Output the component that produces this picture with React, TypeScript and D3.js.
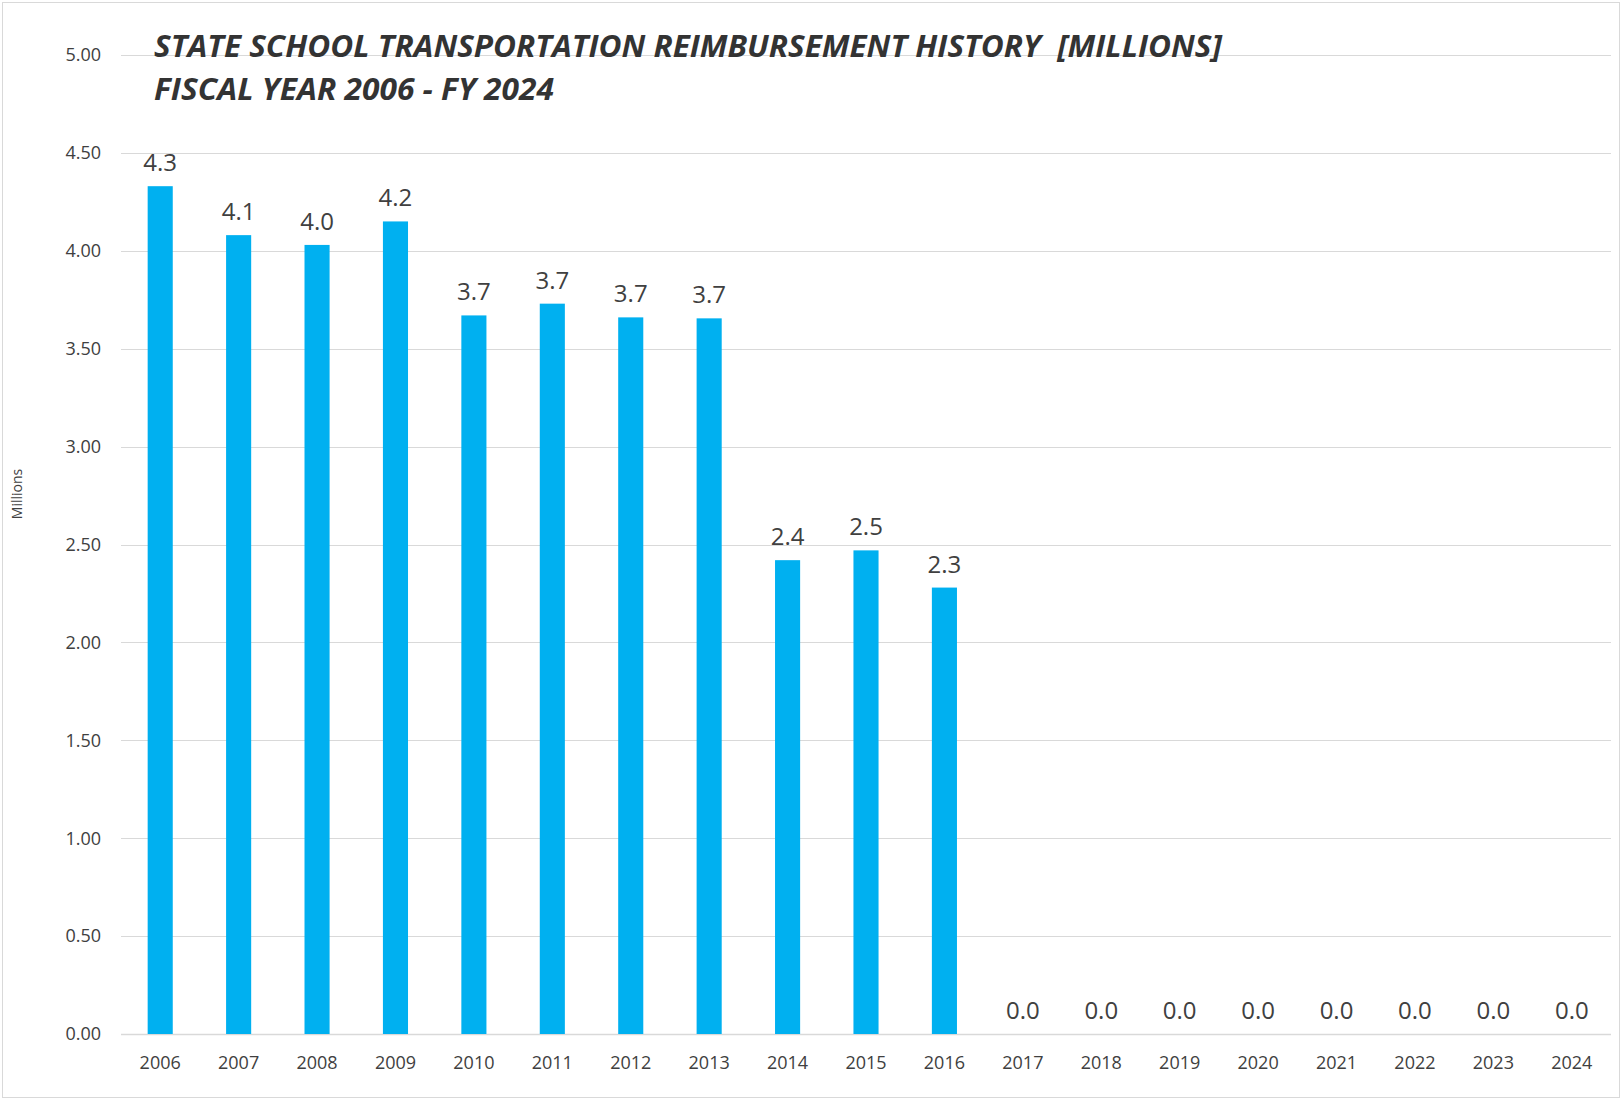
import { useMemo } from "react";
import * as d3 from "d3";

const years = [
  "2006", "2007", "2008", "2009", "2010", "2011", "2012", "2013", "2014", "2015",
  "2016", "2017", "2018", "2019", "2020", "2021", "2022", "2023", "2024",
];

const reimbursement = [
  4.33, 4.08, 4.03, 4.15, 3.67, 3.73, 3.66, 3.655, 2.42, 2.47,
  2.28, 0, 0, 0, 0, 0, 0, 0, 0,
];

const yTicks = [0, 0.5, 1, 1.5, 2, 2.5, 3, 3.5, 4, 4.5, 5];

const titleLines = [
  "STATE SCHOOL TRANSPORTATION REIMBURSEMENT HISTORY  [MILLIONS]",
  "FISCAL YEAR 2006 - FY 2024",
];

const width = 1622;
const height = 1100;
const margin = { top: 55, right: 11, bottom: 66, left: 121 };
const barColor = "#00b0f0";
const textColor = "#404040";
const font = "'Open Sans', 'Liberation Sans', sans-serif";

export default function App() {
  const x = useMemo(
    () =>
      d3
        .scaleBand<string>()
        .domain(years)
        .range([margin.left, width - margin.right])
        .paddingInner(0.68)
        .paddingOuter(0.34),
    []
  );

  const y = useMemo(
    () => d3.scaleLinear().domain([0, 5]).range([height - margin.bottom, margin.top]),
    []
  );

  const fmtTick = d3.format(".2f");
  const fmtLabel = d3.format(".1f");

  return (
    <svg
      width={width}
      height={height}
      style={{ position: "absolute", left: 0, top: 0, background: "#fff" }}
      fontFamily={font}
    >
      <rect x={2.5} y={2.5} width={width - 5} height={height - 5} fill="#fff" stroke="#d9d9d9" />

      {/* gridlines + y ticks */}
      <g>
        {yTicks.map((t) => (
          <g key={t}>
            <line
              x1={margin.left}
              x2={width - margin.right}
              y1={Math.round(y(t)) + 0.5}
              y2={Math.round(y(t)) + 0.5}
              stroke="#d9d9d9"
              strokeWidth={t === 0 ? 1.5 : 1}
            />
            <text
              x={101}
              y={y(t)}
              dy="0.35em"
              textAnchor="end"
              fontSize={18}
              fill={textColor}
            >
              {fmtTick(t)}
            </text>
          </g>
        ))}
      </g>

      <text
        transform={`translate(22,${494}) rotate(-90)`}
        textAnchor="middle"
        fontSize={14}
        fill={textColor}
      >
        Millions
      </text>

      {/* bars */}
      <g>
        {years.map((yr, i) => (
          <rect
            key={yr}
            x={x(yr)}
            y={y(reimbursement[i])}
            width={x.bandwidth()}
            height={y(0) - y(reimbursement[i])}
            fill={barColor}
          />
        ))}
      </g>

      {/* data labels */}
      <g>
        {years.map((yr, i) => (
          <text
            key={yr}
            x={(x(yr) ?? 0) + x.bandwidth() / 2}
            y={y(reimbursement[i]) - 15}
            textAnchor="middle"
            fontSize={24}
            fill={textColor}
          >
            {fmtLabel(reimbursement[i])}
          </text>
        ))}
      </g>

      {/* x labels */}
      <g>
        {years.map((yr) => (
          <text
            key={yr}
            x={(x(yr) ?? 0) + x.bandwidth() / 2}
            y={1069}
            textAnchor="middle"
            fontSize={18}
            fill={textColor}
          >
            {yr}
          </text>
        ))}
      </g>

      {/* title */}
      <text
        x={154}
        y={57}
        fontSize={31}
        fontWeight="bold"
        fontStyle="italic"
        fill="#333"
        textLength={1068}
        lengthAdjust="spacingAndGlyphs"
        style={{ whiteSpace: "pre" }}
      >
        {titleLines[0]}
      </text>
      <text
        x={154}
        y={100}
        fontSize={31}
        fontWeight="bold"
        fontStyle="italic"
        fill="#333"
        textLength={400}
        lengthAdjust="spacingAndGlyphs"
      >
        {titleLines[1]}
      </text>
    </svg>
  );
}
